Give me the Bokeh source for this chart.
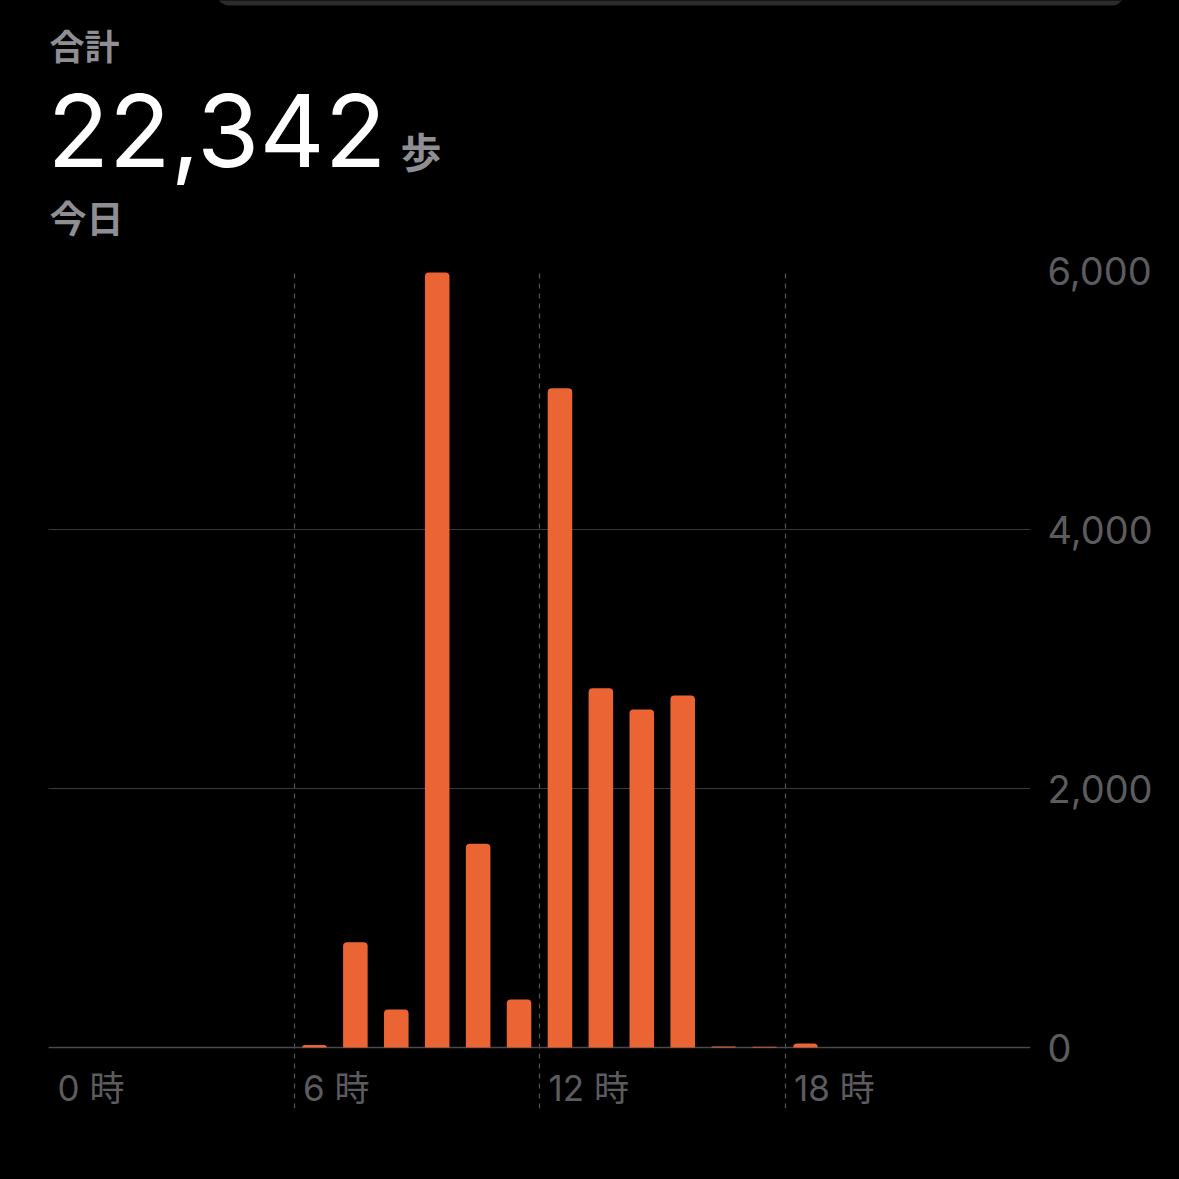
from bokeh.plotting import figure
from bokeh.models import (Range1d, FixedTicker, Grid, LinearAxis, GlobalInlineStyleSheet,
                          ColumnDataSource, NumeralTickFormatter)
from bokeh.layouts import column
from bokeh.core.properties import value
from bokeh.embed import file_html
from bokeh.resources import INLINE

# ---- data ----
hours = list(range(24))
steps = [0, 0, 0, 0, 0, 0, 20, 813, 293, 5985, 1573, 371,
         5091, 2775, 2610, 2718, 8, 5, 30, 0, 0, 0, 0, 0]
total_label = "22,342"
unit_label = "歩"
title_label = "合計"
period_label = "今日"
y_ticks = [0, 2000, 4000, 6000]
x_ticks = [0, 6, 12, 18]
x_tick_labels = ["0 時", "6 時", "12 時", "18 時"]

BG = "#000000"
GRAY = "#8e8e93"
AXIS_GRAY = "#5c5c5e"
GRID = "#3a3a3c"
BAR = "#EB6534"
LATIN = "Inter, 'Noto Sans CJK JP', sans-serif"
CJK = "'Noto Sans CJK JP', sans-serif"

W = 1179

# ---- header ----
HH = 247
h = figure(width=W, height=HH, x_range=Range1d(0, W), y_range=Range1d(HH, 0),
           output_backend="svg", toolbar_location=None, min_border=0,
           x_axis_location=None, y_axis_location=None,
           background_fill_color=BG, border_fill_color=BG, outline_line_color=None)
h.frame_align = False
h.grid.visible = False
# top card edge (UI decoration)
h.quad(left=[216], right=[1124], top=[-20], bottom=[5], fill_color="#2c2c2e",
       line_color=None, border_radius=16)
h.text(x=[49], y=[44], text=[title_label], text_color=GRAY, text_font=value(CJK),
       text_font_size="35px", text_baseline="middle", text_font_style="bold")
h.text(x=[47], y=[130], text=[total_label], text_color="#ffffff", text_font=value("Inter"),
       text_font_size="101px", text_baseline="middle", text_font_style="normal")
h.text(x=[400], y=[149], text=[unit_label], text_color=GRAY, text_font=value(CJK),
       text_font_size="41px", text_baseline="middle", text_font_style="bold")
h.text(x=[49], y=[216], text=[period_label], text_color=GRAY, text_font=value(CJK),
       text_font_size="37px", text_baseline="middle", text_font_style="bold")

# ---- chart ----
TOP = 270 - HH
y_top = 6000
y_bottom = -y_top * 61 / 777
p = figure(width=W, height=W - HH, x_range=Range1d(0, 24), y_range=Range1d(y_bottom, y_top),
           output_backend="svg", toolbar_location=None,
           min_border_left=48, min_border_right=149, min_border_top=TOP,
           min_border_bottom=(W - HH) - TOP - 838,
           background_fill_color=BG, border_fill_color=BG, outline_line_color=None,
           y_axis_location=None, x_axis_location=None)
p.frame_align = False
p.center = []

# y axis on the right
yax = LinearAxis(ticker=FixedTicker(ticks=y_ticks), formatter=NumeralTickFormatter(format="0,0"))
yax.axis_line_color = None
yax.major_tick_line_color = None
yax.minor_tick_line_color = None
yax.major_label_text_color = AXIS_GRAY
yax.major_label_text_font = LATIN
yax.major_label_text_font_size = "38px"
yax.major_label_standoff = 11
p.add_layout(yax, "right")

# horizontal grid
p.add_layout(Grid(dimension=1, ticker=FixedTicker(ticks=y_ticks),
                  grid_line_color=GRID, grid_line_width=1))
# dashed vertical grid
p.add_layout(Grid(dimension=0, ticker=FixedTicker(ticks=[6, 12, 18]),
                  grid_line_color="#545456", grid_line_width=1.2, grid_line_dash="5 5"))
# solid borders
p.add_layout(Grid(dimension=0, ticker=FixedTicker(ticks=[0, 24]),
                  grid_line_color="#444446", grid_line_width=1.2))
# baseline (zero) drawn brighter
p.add_layout(Grid(dimension=1, ticker=FixedTicker(ticks=[0]),
                  grid_line_color="#4a4a4c", grid_line_width=1.5))

src = ColumnDataSource(dict(x=[hh + 0.5 for hh in hours], top=steps))
p.vbar(x="x", top="top", bottom=0, width=0.6, source=src, fill_color=BAR,
       line_color=None, border_radius=[4, 4, 0, 0])

# x tick labels
p.text(x=x_ticks, y=[0] * len(x_ticks), text=x_tick_labels, text_color=AXIS_GRAY,
       text_font=value(LATIN), text_font_size="35px", text_baseline="middle",
       x_offset=9, y_offset=40)

layout = column(h, p, spacing=0,
                stylesheets=[GlobalInlineStyleSheet(css="html, body { background: #000000; }")])

open("out.html", "w").write(file_html(layout, INLINE))
